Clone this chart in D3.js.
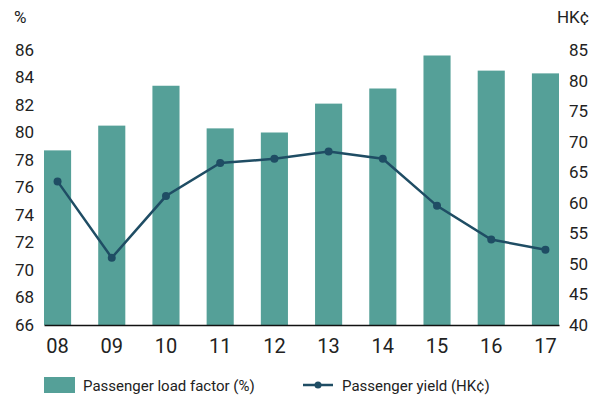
<!DOCTYPE html>
<html>
<head>
<meta charset="utf-8">
<script src="https://cdn.jsdelivr.net/npm/d3@7"></script>
<style>
  body { margin: 0; background: #fff; }
  svg text { font-family: Roboto, "Noto Sans", sans-serif; fill: #222; }
</style>
</head>
<body>
<div class="chart"></div>
<script>
// Years on the x axis
const years = ["08", "09", "10", "11", "12", "13", "14", "15", "16", "17"];
// Passenger load factor (%), left axis
const loadFactor = [78.7, 80.5, 83.4, 80.3, 80.0, 82.1, 83.2, 85.6, 84.5, 84.3];
// Passenger yield (HK¢), right axis
const yieldHK = [63.5, 51.0, 61.1, 66.5, 67.2, 68.4, 67.2, 59.5, 54.0, 52.3];
// Tick labels
const leftTicks = [66, 68, 70, 72, 74, 76, 78, 80, 82, 84, 86];
const rightTicks = [40, 45, 50, 55, 60, 65, 70, 75, 80, 85];

const width = 600;
const height = 396;
const plot = {left: 44, right: 559, top: 50, bottom: 325};

const barColor = "#55a098";
const lineColor = "#1f4d64";

const svg = d3.select(".chart")
  .append("svg")
    .attr("width", width)
    .attr("height", height);

// x scale: one band per year, bars half the step wide
const x = d3.scaleBand()
  .domain(years)
  .range([plot.left, plot.right])
  .paddingInner(0.5)
  .paddingOuter(0);

const yLeft = d3.scaleLinear()
  .domain([66, 86])
  .range([plot.bottom, plot.top]);

const yRight = d3.scaleLinear()
  .domain([40, 85])
  .range([plot.bottom, plot.top]);

// Bars
svg.append("g")
  .selectAll("rect")
  .data(years)
  .enter()
  .append("rect")
    .attr("x", d => x(d))
    .attr("y", (d, i) => yLeft(loadFactor[i]))
    .attr("width", x.bandwidth())
    .attr("height", (d, i) => plot.bottom - yLeft(loadFactor[i]))
    .attr("fill", barColor);

// Left axis (labels only)
const leftAxis = svg.append("g")
    .attr("transform", `translate(34, 0)`)
    .call(d3.axisLeft(yLeft).tickValues(leftTicks).tickSize(0).tickPadding(0));
leftAxis.select(".domain").remove();
leftAxis.selectAll("text")
    .attr("font-size", 17)
    .attr("fill", "#222");

// Right axis (labels only)
const rightAxis = svg.append("g")
    .attr("transform", `translate(569, 0)`)
    .call(d3.axisRight(yRight).tickValues(rightTicks).tickSize(0).tickPadding(0));
rightAxis.select(".domain").remove();
rightAxis.selectAll("text")
    .attr("font-size", 17)
    .attr("fill", "#222");

// Bottom axis
const bottomAxis = svg.append("g")
    .attr("transform", `translate(0, ${plot.bottom})`)
    .call(d3.axisBottom(x).tickSize(0).tickPadding(14));
bottomAxis.select(".domain")
    .attr("stroke", "#111")
    .attr("stroke-width", 1.5);
bottomAxis.selectAll("text")
    .attr("font-size", 20)
    .attr("fill", "#222");

// Axis unit labels
svg.append("text")
    .attr("x", 14)
    .attr("y", 23)
    .attr("font-size", 17)
    .text("%");

svg.append("text")
    .attr("x", 589)
    .attr("y", 23)
    .attr("font-size", 17)
    .attr("text-anchor", "end")
    .text("HK¢");

// Yield line
const line = d3.line()
  .x((d, i) => x(years[i]) + x.bandwidth() / 2)
  .y(d => yRight(d));

svg.append("path")
    .datum(yieldHK)
    .attr("d", line)
    .attr("fill", "none")
    .attr("stroke", lineColor)
    .attr("stroke-width", 2.5);

svg.append("g")
  .selectAll("circle")
  .data(yieldHK)
  .enter()
  .append("circle")
    .attr("cx", (d, i) => x(years[i]) + x.bandwidth() / 2)
    .attr("cy", d => yRight(d))
    .attr("r", 4)
    .attr("fill", lineColor);

// Legend
const legend = svg.append("g");

legend.append("rect")
    .attr("x", 44)
    .attr("y", 377)
    .attr("width", 31)
    .attr("height", 16)
    .attr("fill", barColor);

legend.append("text")
    .attr("x", 83)
    .attr("y", 391)
    .attr("font-size", 15)
    .text("Passenger load factor (%)");

legend.append("line")
    .attr("x1", 303)
    .attr("x2", 333)
    .attr("y1", 385)
    .attr("y2", 385)
    .attr("stroke", lineColor)
    .attr("stroke-width", 2.5);

legend.append("circle")
    .attr("cx", 318)
    .attr("cy", 385)
    .attr("r", 3.5)
    .attr("fill", lineColor);

legend.append("text")
    .attr("x", 342)
    .attr("y", 391)
    .attr("font-size", 15)
    .text("Passenger yield (HK¢)");
</script>
</body>
</html>
